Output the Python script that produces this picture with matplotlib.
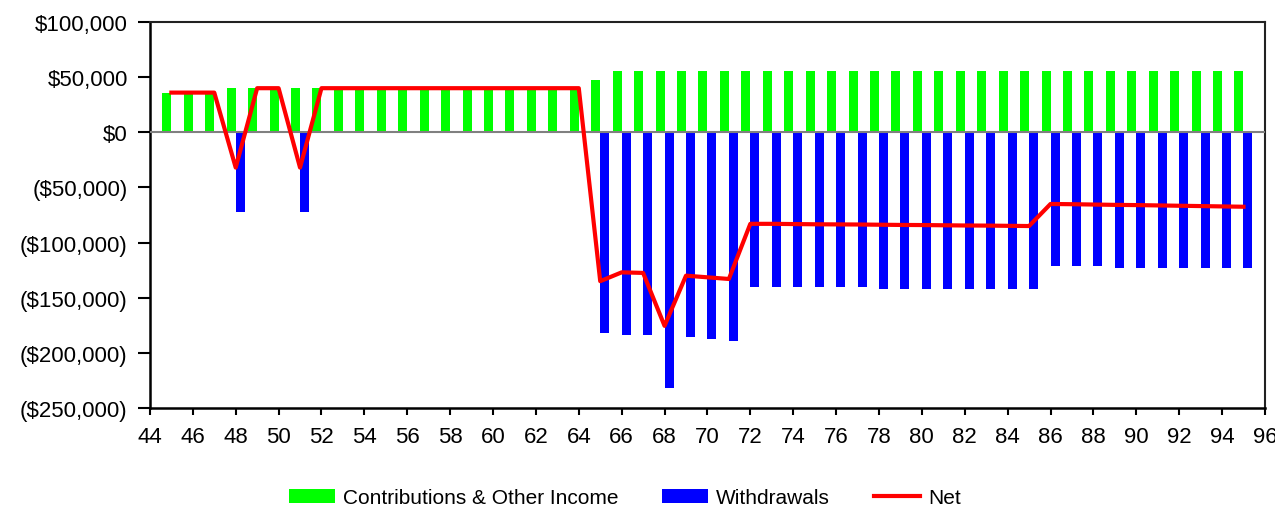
import matplotlib
matplotlib.use("Agg")
import numpy as np
from matplotlib import pyplot as plt
from matplotlib.ticker import FuncFormatter, MultipleLocator

plt.rcParams['font.family'] = ['Liberation Sans', 'DejaVu Sans']

ages = list(range(45, 96))

# income going in each year
contributions = ([36000] * 3 + [40000] * 17 + [47000] + [56000] * 30)

# money taken out each year (negative)
withdrawals = ([0, 0, 0, -72000, 0, 0, -72000] + [0] * 13 +
               [-182000, -184000, -184000, -231500, -186000, -187500, -189500] +
               [-140000] * 6 + [-142000] * 8 + [-121500] * 3 + [-123500] * 7)

# net cash flow
net = ([36000, 36000, 36000, -32000, 40000, 40000, -32000] + [40000] * 13 +
       [-135000, -127000, -127500, -175500, -130000, -131500, -133000] +
       [-83000, -83000, -83200, -83400, -83500, -83600, -83800,
        -84000, -84100, -84300, -84500, -84600, -84800, -85000] +
       [-65000, -65200, -65500, -65800, -66000, -66300, -66600,
        -66900, -67200, -67500])


def money(v, pos):
    if v < 0:
        return '(${:,.0f})'.format(-v)
    return '${:,.0f}'.format(v)


fig = plt.figure(figsize=(12.75, 5.06), dpi=100)
ax = fig.add_axes([0.1176, 0.1917, 0.8745, 0.7628])

b1 = ax.bar(ages, contributions, width=-0.42, align='edge', color='#00ff00',
            label='Contributions & Other Income', zorder=2)
b2 = ax.bar(ages, withdrawals, width=0.42, align='edge', color='#0000ff',
            label='Withdrawals', zorder=2)
ax.axhline(0, color='#808080', linewidth=1.5, zorder=3)
l1, = ax.plot(ages, net, color='#ff0000', linewidth=3, label='Net', zorder=4)

ax.set_xlim(44, 96)
ax.set_ylim(-250000, 100000)
ax.xaxis.set_major_locator(MultipleLocator(2))
ax.yaxis.set_major_locator(MultipleLocator(50000))
ax.yaxis.set_major_formatter(FuncFormatter(money))

ax.tick_params(axis='y', direction='out', length=9, width=1.5, pad=7,
               labelsize=16, colors='black')
ax.tick_params(axis='x', direction='out', length=5, width=1.5, pad=8,
               labelsize=16, colors='black')

for side in ['left', 'bottom']:
    ax.spines[side].set_linewidth(1.8)
    ax.spines[side].set_color('black')
for side in ['top', 'right']:
    ax.spines[side].set_linewidth(1.5)
    ax.spines[side].set_color('#222222')

fig.legend(handles=[b1, b2, l1], loc='center', bbox_to_anchor=(0.49, 0.015),
           ncol=3, frameon=False, fontsize=15, handlelength=2.2,
           handleheight=0.65, handletextpad=0.4, columnspacing=2.1)

fig.savefig('out.png', dpi=100)
